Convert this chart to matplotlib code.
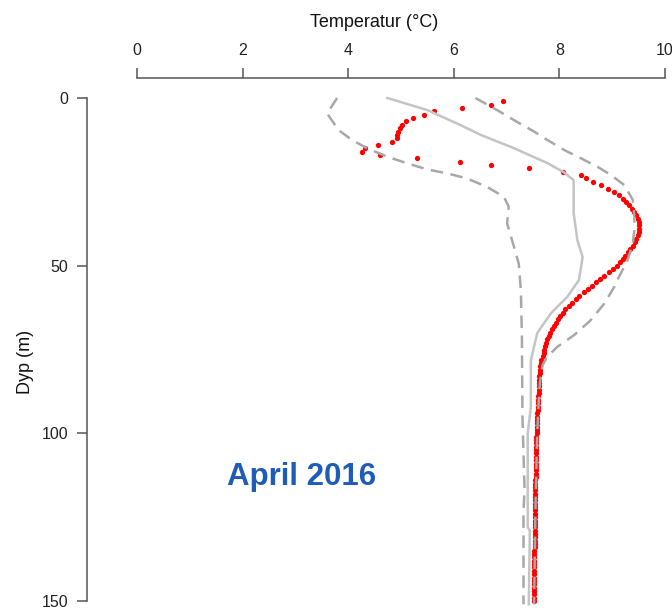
import matplotlib
matplotlib.use("Agg")
import matplotlib.pyplot as plt

plt.rcParams['font.family'] = ['Liberation Sans', 'DejaVu Sans']

# Observed profile, April 2016 (1 m steps)
obs_depth = list(range(1, 151))
obs_temp = [
    6.93, 6.70, 6.15, 5.63, 5.43, 5.23, 5.09, 5.02, 4.98, 4.95,
    4.93, 4.92, 4.83, 4.56, 4.31, 4.27, 4.60, 5.31, 6.12, 6.70,
    7.42, 8.06, 8.41, 8.51, 8.63, 8.78, 8.92, 9.03, 9.12, 9.20,
    9.26, 9.32, 9.37, 9.42, 9.46, 9.49, 9.50, 9.51, 9.51, 9.50,
    9.49, 9.46, 9.43, 9.39, 9.34, 9.30, 9.25, 9.20, 9.15, 9.09,
    9.01, 8.93, 8.85, 8.77, 8.69, 8.62, 8.55, 8.46, 8.38, 8.31,
    8.24, 8.18, 8.11, 8.06, 8.02, 7.97, 7.93, 7.89, 7.86, 7.83,
    7.80, 7.77, 7.75, 7.73, 7.71, 7.70, 7.68, 7.66, 7.65, 7.64,
    7.63, 7.63, 7.62, 7.62, 7.62, 7.61, 7.61, 7.61, 7.60, 7.60,
    7.59, 7.59, 7.59, 7.58, 7.58, 7.58, 7.58, 7.57, 7.57, 7.57,
    7.56, 7.56, 7.56, 7.56, 7.56, 7.55, 7.55, 7.55, 7.55, 7.55,
    7.55, 7.55, 7.55, 7.54, 7.54, 7.54, 7.54, 7.54, 7.54, 7.54,
    7.54, 7.54, 7.54, 7.53, 7.53, 7.53, 7.53, 7.53, 7.53, 7.53,
    7.53, 7.53, 7.53, 7.53, 7.52, 7.52, 7.52, 7.52, 7.52, 7.52,
    7.52, 7.52, 7.52, 7.52, 7.51, 7.51, 7.51, 7.51, 7.51, 7.51,
]

# Climatology: mean, min and max
mean_depth = [0, 3.6, 8.1, 11.0, 14.9, 19.4, 22.1, 24.5, 28.4, 34.3, 42.4,
              47.4, 54.3, 59.3, 64.2, 70.1, 78.2, 92.1, 100, 128, 129, 151]
mean_temp = [4.74, 5.50, 6.13, 6.51, 7.13, 7.77, 8.08, 8.27, 8.27, 8.27, 8.34,
             8.44, 8.37, 8.15, 7.84, 7.58, 7.46, 7.46, 7.40, 7.40, 7.44, 7.42]

min_depth = [0, 4.6, 9.6, 12.5, 15.0, 17.5, 19.5, 21.3, 22.5, 24.0, 26.5,
             29.5, 32.4, 37.4, 44.4, 49.4, 57.3, 71.2, 95, 117, 123, 151]
min_temp = [3.79, 3.60, 3.82, 4.07, 4.36, 4.74, 5.12, 5.50, 5.88, 6.25, 6.63,
            6.95, 7.04, 7.01, 7.14, 7.23, 7.27, 7.29, 7.30, 7.34, 7.32, 7.32]

max_depth = [0, 3.6, 6.6, 10.0, 12.5, 15.5, 18.0, 20.5, 23.0, 26.0, 30.4,
             35.4, 39.4, 43.4, 48.4, 53.3, 56.3, 61.3, 66.3, 70.7, 74.2,
             77.2, 79.7, 85, 90, 100, 120, 151]
max_temp = [6.41, 6.82, 7.14, 7.52, 7.77, 8.09, 8.41, 8.72, 8.98, 9.23, 9.39,
            9.42, 9.42, 9.39, 9.29, 9.13, 9.04, 8.85, 8.59, 8.28, 7.96,
            7.77, 7.68, 7.63, 7.61, 7.58, 7.55, 7.52]

xticks = [0, 2, 4, 6, 8, 10]
yticks = [0, 50, 100, 150]

W, H = 672, 610
fig = plt.figure(figsize=(W / 100, H / 100), dpi=100)

# axes placed so that x 0..10 -> px 137..665 and depth 0..150 -> px 98..601
px_per_m = (601 - 98) / 150
ybot = 156
ax = fig.add_axes([137 / W, 1 - (98 + ybot * px_per_m) / H,
                   (665 - 137) / W, ybot * px_per_m / H])
ax.set_xlim(0, 10)
ax.set_ylim(ybot, 0)

ax.plot(obs_temp, obs_depth, 'o', color='#ff0000', markersize=3.8,
        markeredgewidth=0, clip_on=False, zorder=2)
ax.plot(mean_temp, mean_depth, '-', color='#c4c4c4', linewidth=1.8,
        clip_on=False, zorder=3)
ax.plot(min_temp, min_depth, '--', color='#a8a8a8', linewidth=1.8,
        dashes=(5, 3), clip_on=False, zorder=3)
ax.plot(max_temp, max_depth, '--', color='#a8a8a8', linewidth=1.8,
        dashes=(5, 3), clip_on=False, zorder=3)

# R-style detached axes
for s in ['right', 'bottom']:
    ax.spines[s].set_visible(False)
ax.spines['top'].set_position(('outward', 14.4))
ax.spines['left'].set_position(('outward', 36))
ax.spines['top'].set_bounds(0, 10)
ax.spines['left'].set_bounds(0, 150)
for s in ['top', 'left']:
    ax.spines[s].set_color('#555555')
    ax.spines[s].set_linewidth(1.1)

ax.xaxis.set_ticks_position('top')
ax.set_xticks(xticks)
ax.set_xticklabels([str(t) for t in xticks])
ax.set_yticks(yticks)
ax.set_yticklabels([str(t) for t in yticks])
ax.tick_params(axis='both', length=7.2, width=1.1, color='#555555',
               labelsize=11.5, labelcolor='#222222')
ax.tick_params(axis='x', pad=7)
ax.tick_params(axis='y', pad=6.5)

fig.text(374 / W, 1 - 27 / H, 'Temperatur (°C)', ha='center', va='baseline',
         fontsize=13, color='#111111')
fig.text(25 / W, 1 - 362 / H, 'Dyp (m)', ha='center', va='center',
         rotation=90, fontsize=13, color='#111111')

ax.text(3.11, 113, 'April 2016', ha='center', va='center',
        fontsize=22.5, fontweight='bold', color='#1f5cb8')

fig.savefig('out.png', dpi=100)
